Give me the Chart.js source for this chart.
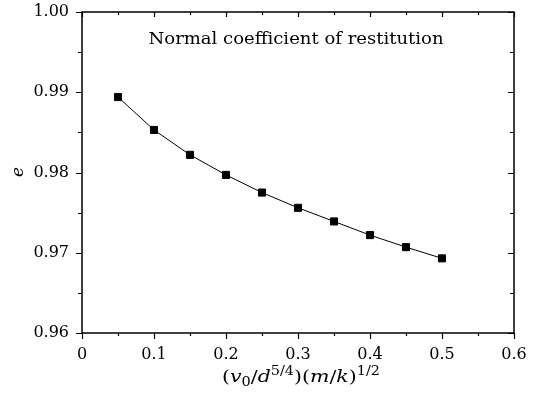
<!DOCTYPE html>
<html>
<head>
<meta charset="utf-8">
<script src="https://cdn.jsdelivr.net/npm/chart.js@4"></script>
<style>
  html, body { margin: 0; padding: 0; background: #fff; }
  #wrap { width: 541px; height: 398px; }
</style>
</head>
<body>
<div id="wrap"><canvas id="chart"></canvas></div>
<script>
// data
var xValues = [0.05, 0.10, 0.15, 0.20, 0.25, 0.30, 0.35, 0.40, 0.45, 0.50];
var eValues = [0.9894, 0.9853, 0.9822, 0.9797, 0.9775, 0.9756, 0.9739, 0.9722, 0.9707, 0.9693];
var xTicks = [0, 0.1, 0.2, 0.3, 0.4, 0.5, 0.6];
var yTicks = [0.96, 0.97, 0.98, 0.99, 1.00];
var plotTitle = "Normal coefficient of restitution";

var serif = "'DejaVu Serif', 'Liberation Serif', serif";

// draw text stretched sideways to a given width (the source used a wide TeX font)
function stretchedText(ctx, draw, naturalWidth, targetWidth, cx, y) {
  var k = targetWidth / naturalWidth;
  ctx.save();
  ctx.translate(cx - targetWidth / 2, y);
  ctx.scale(k, 1);
  draw(ctx);
  ctx.restore();
}

// box, major and minor ticks, text inside the plot
var framePlugin = {
  id: 'frame',
  afterDraw: function(chart) {
    var ctx = chart.ctx;
    var a = chart.chartArea;
    var xs = chart.scales.x, ys = chart.scales.y;
    ctx.save();
    ctx.strokeStyle = '#000';
    ctx.lineWidth = 1.5;
    ctx.strokeRect(a.left, a.top, a.right - a.left, a.bottom - a.top);
    ctx.lineWidth = 1.2;
    ctx.beginPath();
    // x ticks: every 0.05, major every 0.1
    for (var i = 0; i <= 12; i++) {
      var px = Math.round(xs.getPixelForValue(i * 0.05)) + 0.5;
      var major = i % 2 === 0;
      ctx.moveTo(px, a.bottom); ctx.lineTo(px, a.bottom + (major ? 6 : 3));
      ctx.moveTo(px, a.top); ctx.lineTo(px, a.top + (major ? 5 : 3));
    }
    // y ticks: every 0.005, major every 0.01
    for (var j = 0; j <= 8; j++) {
      var py = Math.round(ys.getPixelForValue(0.96 + j * 0.005)) + 0.5;
      var maj = j % 2 === 0;
      ctx.moveTo(a.left, py); ctx.lineTo(a.left - (maj ? 6 : 4), py);
      ctx.moveTo(a.right, py); ctx.lineTo(a.right - (maj ? 6 : 4), py);
    }
    ctx.stroke();

    ctx.fillStyle = '#000';
    ctx.textBaseline = 'alphabetic';
    ctx.textAlign = 'left';

    // text inside the plot
    ctx.font = '16px ' + serif;
    var tw = ctx.measureText(plotTitle).width;
    stretchedText(ctx, function(c) { c.fillText(plotTitle, 0, 0); }, tw, 295, 296, a.top + 32);

    // y axis title
    ctx.save();
    ctx.translate(19, 172);
    ctx.rotate(-Math.PI / 2);
    ctx.font = 'italic 17px ' + serif;
    ctx.textAlign = 'center';
    ctx.textBaseline = 'middle';
    ctx.fillText('e', 0, 0);
    ctx.restore();

    // x axis title with sub/superscripts
    var parts = [
      ['(', 'n'], ['v', 'i'], ['0', 'sub'], ['/', 'n'], ['d', 'i'], ['5/4', 'sup'],
      [')(', 'n'], ['m', 'i'], ['/', 'n'], ['k', 'i'], [')', 'n'], ['1/2', 'sup']
    ];
    function fontFor(kind) {
      if (kind === 'i') return 'italic 17px ' + serif;
      if (kind === 'sub' || kind === 'sup') return '12px ' + serif;
      return '17px ' + serif;
    }
    var total = 0;
    parts.forEach(function(p) { ctx.font = fontFor(p[1]); total += ctx.measureText(p[0]).width; });
    stretchedText(ctx, function(c) {
      var cx = 0;
      parts.forEach(function(p) {
        c.font = fontFor(p[1]);
        var dy = p[1] === 'sub' ? 4 : (p[1] === 'sup' ? -7 : 0);
        c.fillText(p[0], cx, dy);
        cx += c.measureText(p[0]).width;
      });
    }, total, 158, 301, 382);
    ctx.restore();
  }
};

var points = xValues.map(function(x, i) { return { x: x, y: eValues[i] }; });

new Chart(document.getElementById('chart'), {
  type: 'line',
  data: {
    datasets: [{
      data: points,
      borderColor: '#000',
      borderWidth: 1,
      backgroundColor: '#000',
      pointStyle: 'rect',
      pointRadius: 5,
      pointBorderWidth: 1,
      pointBackgroundColor: '#000',
      pointBorderColor: '#000',
      tension: 0
    }]
  },
  options: {
    responsive: true,
    maintainAspectRatio: false,
    animation: false,
    events: [],
    layout: { padding: { top: 12, right: 27, left: 0, bottom: 0 } },
    plugins: { legend: { display: false }, title: { display: false }, tooltip: { enabled: false } },
    scales: {
      x: {
        type: 'linear',
        min: 0, max: 0.6,
        afterBuildTicks: function(s) { s.ticks = xTicks.map(function(v) { return { value: v }; }); },
        afterFit: function(s) { s.height = 65; s.paddingLeft = 0; s.paddingRight = 0; },
        grid: { display: false, drawTicks: false },
        border: { display: false },
        ticks: {
          padding: 12,
          color: '#000',
          font: { family: serif, size: 16 },
          maxRotation: 0,
          callback: function(v) { return v === 0 ? '0' : v.toFixed(1); }
        }
      },
      y: {
        type: 'linear',
        min: 0.96, max: 1.00,
        afterBuildTicks: function(s) { s.ticks = yTicks.map(function(v) { return { value: v }; }); },
        afterFit: function(s) { s.width = 82; s.paddingTop = 0; s.paddingBottom = 0; },
        grid: { display: false, drawTicks: false },
        border: { display: false },
        ticks: {
          padding: 13,
          color: '#000',
          font: { family: serif, size: 16 },
          callback: function(v) { return v.toFixed(2); }
        }
      }
    }
  },
  plugins: [framePlugin]
});
</script>
</body>
</html>
